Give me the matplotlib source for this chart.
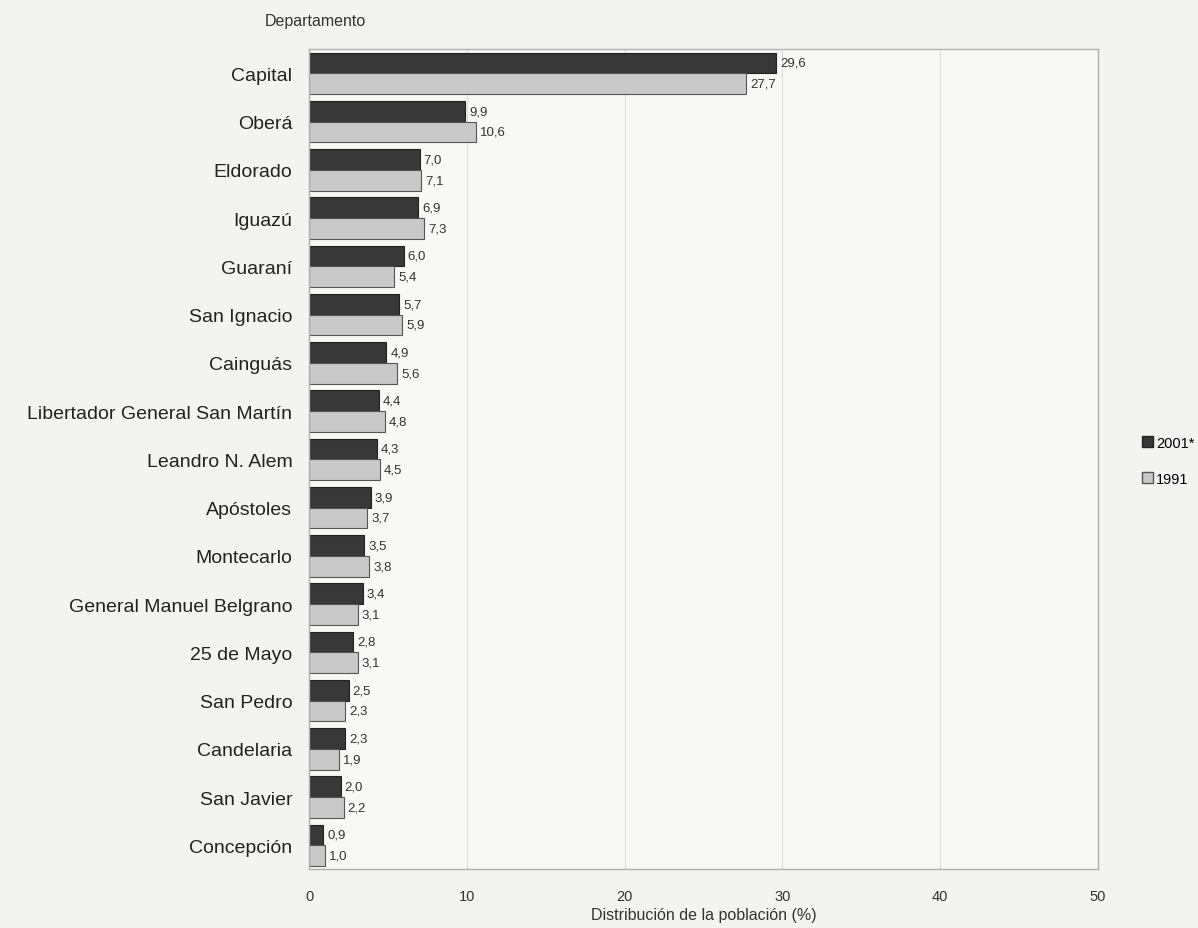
import matplotlib.pyplot as plt
import numpy as np
from matplotlib.patches import Patch

plt.rcParams['font.family'] = ['Liberation Sans', 'DejaVu Sans']

departamentos = ['Capital', 'Oberá', 'Eldorado', 'Iguazú', 'Guaraní', 'San Ignacio',
                 'Cainguás', 'Libertador General San Martín', 'Leandro N. Alem',
                 'Apóstoles', 'Montecarlo', 'General Manuel Belgrano', '25 de Mayo',
                 'San Pedro', 'Candelaria', 'San Javier', 'Concepción']
v2001 = [29.6, 9.9, 7.0, 6.9, 6.0, 5.7, 4.9, 4.4, 4.3, 3.9, 3.5, 3.4, 2.8, 2.5, 2.3, 2.0, 0.9]
v1991 = [27.7, 10.6, 7.1, 7.3, 5.4, 5.9, 5.6, 4.8, 4.5, 3.7, 3.8, 3.1, 3.1, 2.3, 1.9, 2.2, 1.0]

dark = '#383838'
light = '#c9c9c9'

fig = plt.figure(figsize=(11.98, 9.29), dpi=100, facecolor='#f3f3f1')
ax = fig.add_axes([0.258, 0.063, 0.6585, 0.883])
ax.set_facecolor('#f8f8f7')

y = np.arange(len(departamentos))
h = 0.43
b1 = ax.barh(y - h / 2, v2001, height=h, color=dark, edgecolor='#222222', linewidth=0.8)
b2 = ax.barh(y + h / 2, v1991, height=h, color=light, edgecolor='#555555', linewidth=0.8)

for bars, vals in ((b1, v2001), (b2, v1991)):
    for bar, v in zip(bars, vals):
        ax.text(bar.get_width() + 0.25, bar.get_y() + bar.get_height() / 2,
                f'{v:.1f}'.replace('.', ','), va='center', ha='left',
                fontsize=9.5, color='#333333')

ax.set_ylim(len(departamentos) - 0.5, -0.5)
ax.set_xlim(0, 50)
ax.set_xticks([0, 10, 20, 30, 40, 50])
ax.set_yticks(y)
ax.set_yticklabels(departamentos, fontsize=14, color='#222222')
ax.tick_params(axis='both', length=0)
ax.tick_params(axis='x', labelsize=10.5, pad=14, colors='#333333')
ax.tick_params(axis='y', pad=12)
ax.grid(axis='x', color='#dcdcdc', linewidth=0.8)
ax.set_axisbelow(True)
for s in ax.spines.values():
    s.set_color('#b0b0b0')
    s.set_linewidth(1)

ax.set_xlabel('Distribución de la población (%)', fontsize=11.5, color='#333333', labelpad=3)
fig.text(0.221, 0.977, 'Departamento', fontsize=11.5, color='#333333', va='center')

handles = [Patch(facecolor=dark, edgecolor='#222222', label='2001*'),
           Patch(facecolor=light, edgecolor='#555555', label='1991')]
fig.legend(handles=handles, loc='center left', bbox_to_anchor=(0.942, 0.503),
           frameon=False, fontsize=10.5, handlelength=0.8, handleheight=0.8,
           handletextpad=0.2, labelspacing=1.5)

fig.savefig('out.png', dpi=100, facecolor=fig.get_facecolor())
